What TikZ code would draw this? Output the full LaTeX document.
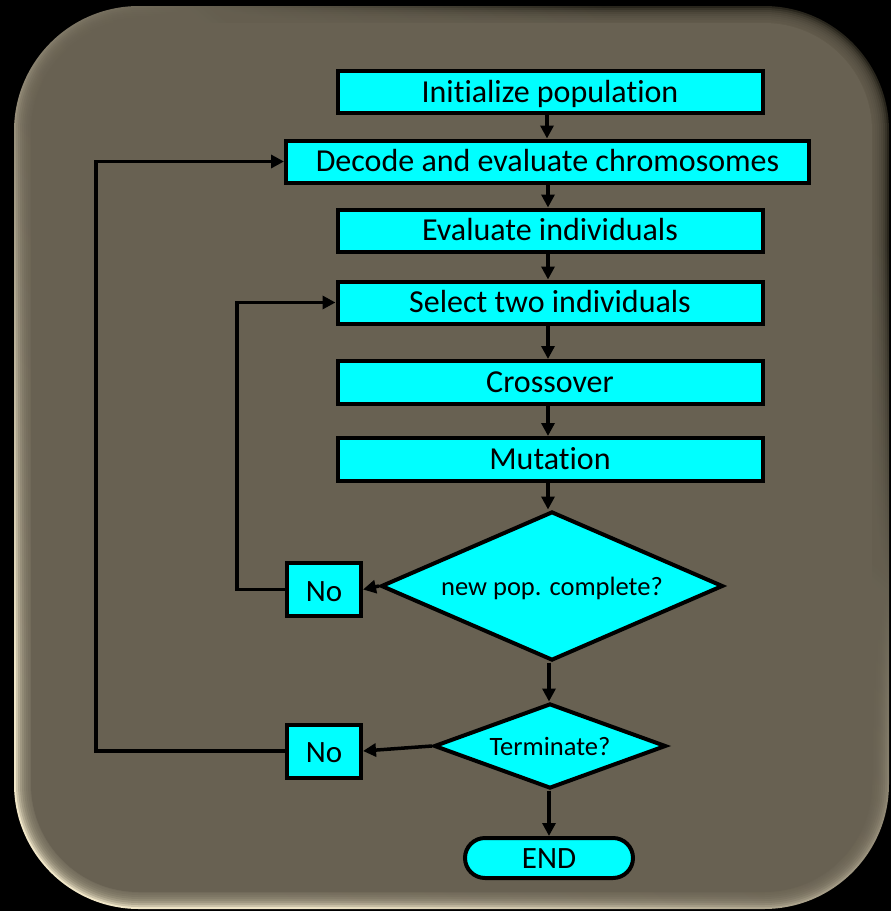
\documentclass[tikz,border=0pt]{standalone}
\usepackage{fontspec}
\setmainfont{Carlito}[Ligatures=NoCommon]
\usetikzlibrary{shapes.geometric,shapes.misc,arrows.meta,calc}
\definecolor{cyanbox}{RGB}{0,255,255}
\definecolor{panel}{RGB}{104,97,82}
\definecolor{bevdark}{RGB}{40,37,28}
\definecolor{bevlight}{RGB}{240,230,200}
\tikzset{
  stepbox/.style={draw=black, line width=4pt, fill=cyanbox, inner sep=0pt,
    text height=23pt, text depth=3pt,
    minimum width=425pt, minimum height=42pt, font=\fontsize{32}{34}\selectfont},
  nobox/.style={draw=black, line width=4pt, fill=cyanbox, inner sep=0pt,
    text height=24pt, text depth=1pt,
    minimum width=74pt, minimum height=53pt, font=\fontsize{31}{34}\selectfont},
  decision/.style={draw=black, line width=4pt, fill=cyanbox, diamond,
    text height=20pt, text depth=2pt,
    inner sep=0pt, font=\fontsize{26.5}{28}\selectfont},
  endbox/.style={draw=black, line width=4pt, fill=cyanbox, rounded rectangle,
    text height=23pt, text depth=3pt,
    inner sep=0pt, minimum width=168pt, minimum height=40pt, font=\fontsize{31}{34}\selectfont},
  conn/.style={line width=3.5pt, draw=black},
  arr/.style={conn, -{Triangle[length=13pt,width=13pt]}},
}
\begin{document}
\begin{tikzpicture}[x=1pt,y=-1pt]
\fill[black] (0,0) rectangle (891,911);
\useasboundingbox (0,0) rectangle (891,911);
% bevelled panel
\shade[rounded corners=125pt, top color=bevdark, bottom color=bevlight,
  middle color=panel!70!bevlight, shading angle=-40] (14,6) rectangle (889,909);
\foreach \i in {2,4,...,16}{
  \fill[rounded corners=125pt-\i pt, panel, opacity=0.25] (14+\i,6+\i) rectangle (889-\i,909-\i);
}
\fill[rounded corners=108pt, panel] (31,23) rectangle (872,892);

% nodes
\node[stepbox] (init) at (550,92) {Initialize population};
\node[stepbox, minimum width=523pt] (decode) at (547.5,161.5) {Decode and evaluate chromosomes};
\node[stepbox] (evalind) at (550,230.5) {Evaluate individuals};
\node[stepbox] (select) at (550,302.5) {Select two individuals};
\node[stepbox, minimum height=43pt] (cross) at (550,382.5) {Crossover};
\node[stepbox, minimum height=43pt] (mut) at (550,459.5) {Mutation};
\node[decision, aspect=2.3, minimum width=342pt, minimum height=149pt] (newpop) at (552,586) {new pop. complete?};
\node[nobox] (no1) at (324,589.5) {No};
\node[decision, aspect=2.7, minimum width=232pt, minimum height=85pt] (term) at (550,746) {Terminate?};
\node[nobox] (no2) at (324,751) {No};
\node[endbox] (end) at (549,858) {END};

\coordinate (loopa) at (237,0);
\coordinate (loopb) at (96,0);

% connectors
\draw[arr] (init.south -| 547,0) -- (decode.north -| 547,0);
\draw[arr] (decode.south -| 548,0) -- (evalind.north -| 548,0);
\draw[arr] (evalind.south -| 548,0) -- (select.north -| 548,0);
\draw[arr] (select.south -| 548,0) -- (cross.north -| 548,0);
\draw[arr] (cross.south -| 548,0) -- (mut.north -| 548,0);
\draw[arr] (mut.south -| 548,0) -- (newpop.north -| 548,0);
\draw[arr] (newpop.south -| 549,0) -- (term.north -| 549,0);
\draw[arr] (term.south -| 549,0) -- (end.north -| 549,0);
\draw[arr] (newpop.west) -- (no1.east);
\draw[arr] (term.west) -- (no2.east);
\draw[arr] (no1.west) -- (no1.west -| loopa) |- (select.west);
\draw[arr] (no2.west) -- (no2.west -| loopb) |- (decode.west);
\end{tikzpicture}
\end{document}
